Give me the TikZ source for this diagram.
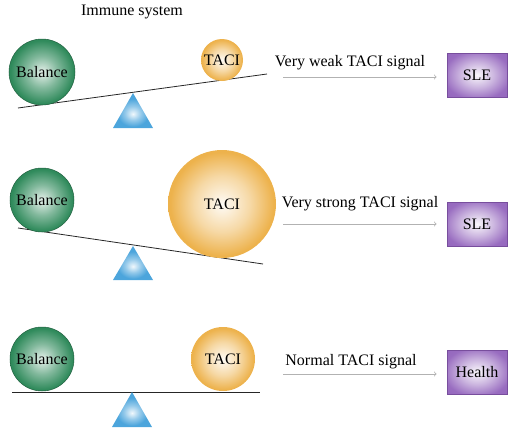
\documentclass[tikz,border=0pt]{standalone}
\usepackage{fontspec}
\setmainfont{Liberation Serif}
\usetikzlibrary{positioning}
\definecolor{balgreen}{HTML}{2F8A5B}
\definecolor{tacigold}{HTML}{EDB24C}
\definecolor{pivblue}{HTML}{4CA5DC}
\definecolor{boxpurple}{HTML}{8D5CB9}
\pgfdeclareradialshading{greenglow}{\pgfpoint{0bp}{0bp}}{color(0bp)=(balgreen!12);color(12bp)=(balgreen!60);color(24bp)=(balgreen);color(50bp)=(balgreen)}
\pgfdeclareradialshading{goldglow}{\pgfpoint{0bp}{0bp}}{color(0bp)=(tacigold!5);color(13bp)=(tacigold!50);color(24bp)=(tacigold);color(50bp)=(tacigold)}
\pgfdeclareradialshading{blueglow}{\pgfpoint{0bp}{-5bp}}{color(0bp)=(pivblue!8);color(10bp)=(pivblue!60);color(20bp)=(pivblue);color(50bp)=(pivblue)}
\pgfdeclareradialshading{purpleglow}{\pgfpoint{0bp}{0bp}}{color(0bp)=(boxpurple!5);color(14bp)=(boxpurple!45);color(28bp)=(boxpurple!90);color(50bp)=(boxpurple)}
\tikzset{
 bal/.style={circle,draw=balgreen!70!black,line width=.5pt,shading=greenglow,font=\fontsize{16}{18}\selectfont},
 taci/.style={circle,shading=goldglow,font=\fontsize{16}{18}\selectfont},
 res/.style={rectangle,draw=boxpurple!85!black,line width=.8pt,shading=purpleglow,minimum width=60,minimum height=44,font=\fontsize{16}{18}\selectfont},
 lbl/.style={anchor=base,inner sep=0pt,font=\fontsize{16}{18}\selectfont},
 piv/.style={shading=blueglow},
 beam/.style={line width=.8pt,black!85},
 sig/.style={->,draw=black!30,line width=.8pt,shorten >=10}
}
\begin{document}
\begin{tikzpicture}[x=1pt,y=-1pt]
\useasboundingbox(0,0)rectangle(512,432);
\node[lbl](imm)at(132,15){Immune system};
%weak signal
\draw[beam](18,108)--(267,74);
\shade[piv](133,93)--(113,128)--(153,128)--cycle;
\node[bal,minimum size=66](bal1)at(42,72){Balance};
\node[taci,minimum size=42,inner sep=0pt](taci1)at(222,60){TACI};
\node[lbl](sig1)at(350,66){Very weak TACI signal};
\node[res](sle1)at(477,75){SLE};
\coordinate(w1)at(283,77);
\draw[sig](w1)--(w1-|sle1.west);
%strong signal
\draw[beam](18,228)--(263,264);
\shade[piv](133,246)--(113,280)--(153,280)--cycle;
\node[bal,minimum size=64](bal2)at(42,200){Balance};
\node[taci,minimum size=108](taci2)at(222,204){TACI};
\node[lbl](sig2)at(360,207){Very strong TACI signal};
\node[res](sle2)at(477,224){SLE};
\coordinate(w2)at(283,224);
\draw[sig](w2)--(w2-|sle2.west);
%normal signal
\draw[beam](12,392)--(260,392);
\shade[piv](132,392)--(112,427)--(152,427)--cycle;
\node[bal,minimum size=64](bal3)at(42,359){Balance};
\node[taci,minimum size=64](taci3)at(223,359){TACI};
\node[lbl](sig3)at(351,365){Normal TACI signal};
\node[res](hea)at(477,372){Health};
\coordinate(w3)at(283,374);
\draw[sig](w3)--(w3-|hea.west);
\end{tikzpicture}
\end{document}
